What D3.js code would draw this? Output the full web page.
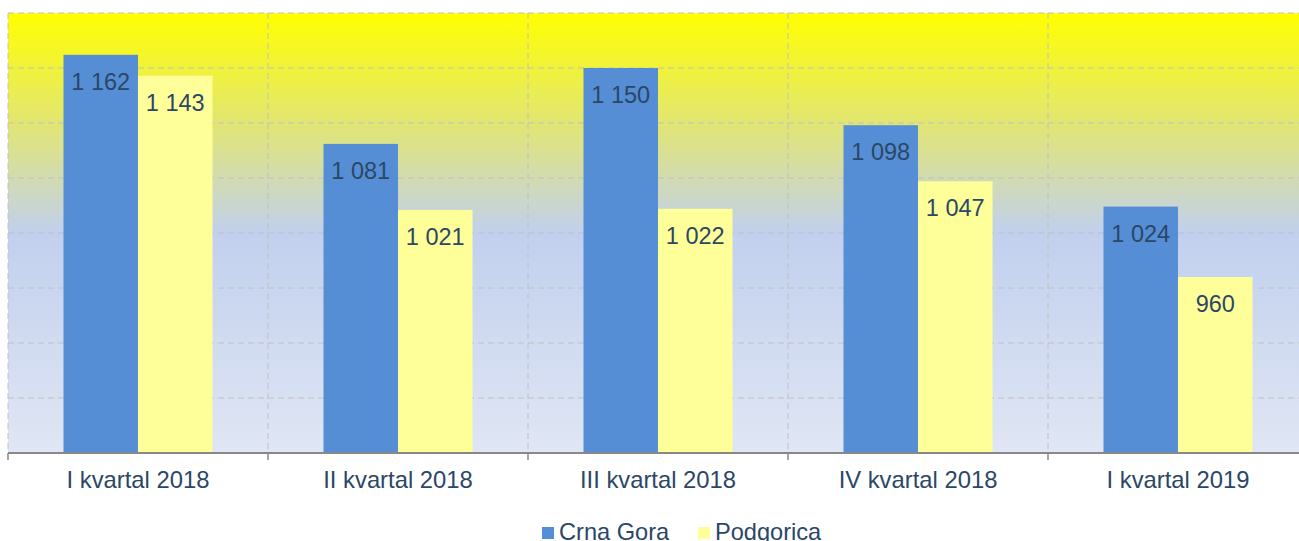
<!DOCTYPE html>
<html>
<head>
<script src="https://cdn.jsdelivr.net/npm/d3@7/dist/d3.min.js"></script>
<style>
    body{ margin:0; background:white; font-family:"Liberation Sans", Arial, sans-serif; }
</style>
</head>
<body>
<div id="chart"></div>
<script>
    var categories = ["I kvartal 2018","II kvartal 2018","III kvartal 2018","IV kvartal 2018","I kvartal 2019"]
    var seriesNames = ["Crna Gora","Podgorica"]
    var crnaGora = [1162,1081,1150,1098,1024]
    var podgorica = [1143,1021,1022,1047,960]
    var yTicks = [800,850,900,950,1000,1050,1100,1150,1200]
    var colors = ["#558ed5","#ffff99"]
    var textColor = "#2b4766"

    var width = 1299, height = 541
    var marginLeft = 8, marginTop = 13, plotW = 1300, plotH = 440

    var svg = d3.select("#chart").append("svg")
        .attr("width",width).attr("height",height)

    var defs = svg.append("defs")
    var grad = defs.append("linearGradient").attr("id","bg")
        .attr("x1",0).attr("y1",0).attr("x2",0).attr("y2",1)
    grad.append("stop").attr("offset","0%").attr("stop-color","#ffff00")
    grad.append("stop").attr("offset","25%").attr("stop-color","#e2e672")
    grad.append("stop").attr("offset","50%").attr("stop-color","#c1d0ee")
    grad.append("stop").attr("offset","100%").attr("stop-color","#e0e6f4")

    var x = d3.scaleBand().domain(categories).range([marginLeft,marginLeft+plotW]).padding(0)
    var inner = d3.scaleBand().domain(seriesNames).range([0,x.bandwidth()]).paddingInner(0).paddingOuter(0.745)
    var y = d3.scaleLinear().domain([800,1200]).range([marginTop+plotH,marginTop])

    var g = svg.append("g")
    g.append("rect").attr("x",marginLeft).attr("y",marginTop).attr("width",plotW).attr("height",plotH)
        .attr("fill","url(#bg)")

    // horizontal grid
    g.selectAll(".hgrid").data(yTicks).enter().append("line")
        .attr("x1",marginLeft).attr("x2",marginLeft+plotW)
        .attr("y1",d=>y(d)).attr("y2",d=>y(d))
        .attr("stroke","#c0c0c0").attr("stroke-dasharray","6,4")

    // vertical grid at category boundaries
    g.selectAll(".vgrid").data(categories).enter().append("line")
        .attr("x1",d=>x(d)).attr("x2",d=>x(d))
        .attr("y1",marginTop).attr("y2",marginTop+plotH)
        .attr("stroke","#c0c0c0").attr("stroke-dasharray","6,4")

    var data = categories.map((c,i)=>({cat:c, values:[crnaGora[i],podgorica[i]]}))

    var groups = g.selectAll(".grp").data(data).enter().append("g")
        .attr("transform",d=>"translate("+x(d.cat)+",0)")

    groups.selectAll("rect").data(d=>d.values.map((v,j)=>({name:seriesNames[j],v:v,j:j})))
        .enter().append("rect")
        .attr("x",d=>inner(d.name)).attr("width",inner.bandwidth())
        .attr("y",d=>y(d.v)).attr("height",d=>y(800)-y(d.v))
        .attr("fill",d=>colors[d.j])

    groups.selectAll("text").data(d=>d.values.map((v,j)=>({name:seriesNames[j],v:v,j:j})))
        .enter().append("text")
        .attr("x",d=>inner(d.name)+inner.bandwidth()/2)
        .attr("y",d=>y(d.v)+35)
        .attr("text-anchor","middle").attr("font-size",23.5).attr("fill",textColor)
        .text(d=>d3.format(",")(d.v).replace(","," "))

    // x axis
    var axis = g.append("g").attr("transform","translate(0,"+(marginTop+plotH)+")")
    axis.append("line").attr("x1",marginLeft).attr("x2",marginLeft+plotW).attr("y1",0).attr("y2",0)
        .attr("stroke","#888").attr("stroke-width",2)
    axis.selectAll(".tick").data(categories).enter().append("line")
        .attr("x1",d=>x(d)).attr("x2",d=>x(d)).attr("y1",0).attr("y2",7)
        .attr("stroke","#888").attr("stroke-width",1.5)
    axis.selectAll(".lbl").data(categories).enter().append("text")
        .attr("x",d=>x(d)+x.bandwidth()/2).attr("y",35)
        .attr("text-anchor","middle").attr("font-size",23.8).attr("fill",textColor)
        .text(d=>d)

    // legend
    var legend = svg.append("g").attr("transform","translate(542,527)")
    var legX = [0,156]
    seriesNames.forEach(function(n,i){
        legend.append("rect").attr("x",legX[i]).attr("y",0).attr("width",12).attr("height",12)
            .attr("fill",colors[i])
        legend.append("text").attr("x",legX[i]+17).attr("y",13).attr("font-size",23.6)
            .attr("fill",textColor).text(n)
    })
</script>
</body>
</html>
